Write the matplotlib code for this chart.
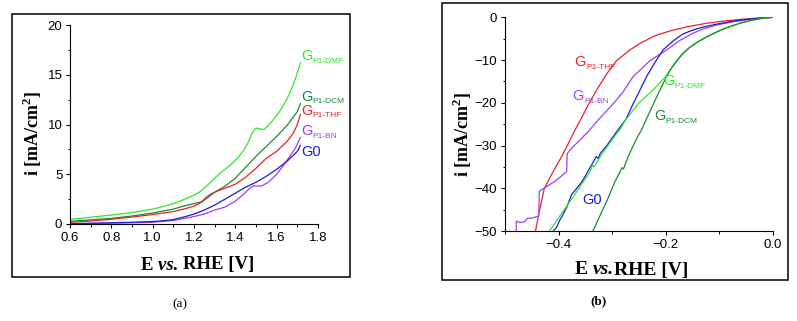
import matplotlib
matplotlib.use("Agg")
import matplotlib.pyplot as plt
from matplotlib.patches import Rectangle

plt.rcParams["font.family"] = ["Liberation Sans", "DejaVu Sans"]
plt.rcParams["mathtext.fontset"] = "custom"
plt.rcParams["mathtext.rm"] = "Liberation Serif:bold"
plt.rcParams["mathtext.bf"] = "Liberation Serif:bold"
plt.rcParams["axes.unicode_minus"] = True

# ---- panel (a): anodic sweep (OER) ----
dmf_a_x = [0.6, 0.7, 0.8, 0.9, 1.0, 1.05, 1.1, 1.15, 1.2, 1.23, 1.26, 1.29, 1.32, 1.35, 1.38,
           1.41, 1.44, 1.46, 1.48, 1.5, 1.52, 1.54, 1.56, 1.58, 1.6, 1.62, 1.64, 1.66, 1.68, 1.7, 1.715]
dmf_a_y = [0.47, 0.68, 0.9, 1.15, 1.5, 1.75, 2.05, 2.45, 2.9, 3.25, 3.8, 4.4, 5.0, 5.5, 6.0,
           6.6, 7.4, 8.1, 9.1, 9.65, 9.55, 9.5, 9.9, 10.4, 10.9, 11.5, 12.2, 13.0, 14.0, 15.2, 16.2]

dcm_a_x = [0.6, 0.7, 0.8, 0.9, 1.0, 1.1, 1.15, 1.2, 1.24, 1.27, 1.3, 1.35, 1.4, 1.45, 1.5,
           1.55, 1.6, 1.65, 1.7, 1.715]
dcm_a_y = [0.27, 0.42, 0.57, 0.8, 1.1, 1.5, 1.8, 2.05, 2.25, 2.7, 3.2, 3.8, 4.6, 5.7, 6.8,
           7.8, 8.8, 9.9, 11.3, 12.1]

thf_a_x = [0.6, 0.7, 0.8, 0.9, 1.0, 1.1, 1.15, 1.2, 1.23, 1.26, 1.28, 1.3, 1.35, 1.4, 1.45,
           1.5, 1.55, 1.6, 1.65, 1.68, 1.7, 1.715]
thf_a_y = [0.17, 0.3, 0.47, 0.7, 0.95, 1.25, 1.5, 1.8, 2.1, 2.7, 3.0, 3.2, 3.6, 4.0, 4.7,
           5.6, 6.6, 7.3, 8.3, 9.1, 10.0, 11.0]

bn_a_x = [0.6, 0.7, 0.8, 0.9, 1.0, 1.1, 1.15, 1.2, 1.25, 1.3, 1.35, 1.4, 1.44, 1.47, 1.49,
          1.51, 1.53, 1.56, 1.6, 1.63, 1.66, 1.69, 1.715]
bn_a_y = [0.02, 0.05, 0.08, 0.12, 0.17, 0.35, 0.55, 0.75, 1.0, 1.4, 1.7, 2.3, 3.0, 3.6, 3.85,
          3.8, 3.85, 4.2, 5.0, 5.8, 6.7, 7.6, 8.7]

g0_a_x = [0.6, 0.7, 0.8, 0.9, 1.0, 1.05, 1.1, 1.15, 1.2, 1.25, 1.3, 1.35, 1.4, 1.45, 1.5,
          1.55, 1.6, 1.65, 1.7, 1.715]
g0_a_y = [0.03, 0.08, 0.12, 0.18, 0.25, 0.32, 0.45, 0.7, 1.0, 1.4, 1.9, 2.5, 3.1, 3.7, 4.2,
          4.8, 5.5, 6.3, 7.3, 7.9]

# ---- panel (b): cathodic sweep (HER) ----
thf_b_x = [-0.443, -0.437, -0.427, -0.412, -0.397, -0.383, -0.369, -0.36, -0.345, -0.33, -0.31,
           -0.292, -0.27, -0.248, -0.22, -0.187, -0.155, -0.124, -0.09, -0.062, -0.03, 0.0]
thf_b_y = [-50, -46, -40.2, -36.5, -33.2, -29.8, -26.3, -24.2, -20.6, -17.2, -13.2,
           -10.2, -7.9, -6.1, -4.3, -3.0, -2.1, -1.4, -0.85, -0.5, -0.2, 0.0]

bn_b_x = [-0.479, -0.479, -0.472, -0.463, -0.458, -0.45, -0.44, -0.437, -0.436, -0.43, -0.422,
          -0.404, -0.385, -0.384, -0.375, -0.36, -0.343, -0.326, -0.3, -0.28, -0.261, -0.23,
          -0.198, -0.175, -0.149, -0.13, -0.105, -0.075, -0.049, -0.025, 0.0]
bn_b_y = [-50, -47.7, -48.0, -47.8, -47.0, -47.0, -46.6, -46.5, -40.7, -40.2, -39.6,
          -38.1, -36.1, -31.9, -30.5, -28.7, -26.5, -24, -20.5, -17.5, -13.9, -10.2,
          -7.6, -5.5, -3.7, -2.7, -1.8, -1.05, -0.6, -0.25, 0.0]

g0_b_x = [-0.41, -0.404, -0.398, -0.392, -0.385, -0.376, -0.366, -0.355, -0.345, -0.336, -0.33,
          -0.326, -0.322, -0.31, -0.3, -0.289, -0.274, -0.262, -0.25, -0.236, -0.22, -0.205,
          -0.185, -0.168, -0.15, -0.131, -0.105, -0.075, -0.05, -0.025, 0.0]
g0_b_y = [-50, -49.2, -47.5, -46.2, -44.5, -41.5, -40, -38.2, -36, -34, -32.6,
          -33.0, -31.8, -30.0, -28.2, -26.3, -23.8, -20.5, -17.5, -13.9, -10.5, -7.6,
          -5.4, -3.9, -3.0, -2.3, -1.6, -0.9, -0.5, -0.2, 0.0]

dmf_b_x = [-0.417, -0.395, -0.37, -0.35, -0.34, -0.337, -0.334, -0.32, -0.3, -0.285, -0.276,
           -0.25, -0.222, -0.2, -0.182, -0.17, -0.155, -0.14, -0.12, -0.1, -0.08, -0.06,
           -0.04, -0.02, 0.0]
dmf_b_y = [-50, -46, -41.5, -37.8, -35.8, -34.6, -35.0, -32.2, -28.6, -26.2, -24.2,
           -20.0, -16.8, -13.8, -10.5, -8.6, -7.0, -5.7, -4.3, -3.1, -2.1, -1.3,
           -0.7, -0.25, 0.0]

dcm_b_x = [-0.336, -0.325, -0.31, -0.295, -0.285, -0.282, -0.279, -0.27, -0.255, -0.245,
           -0.237, -0.225, -0.214, -0.2, -0.19, -0.178, -0.168, -0.155, -0.14, -0.12, -0.1,
           -0.08, -0.06, -0.04, -0.02, 0.0]
dcm_b_y = [-50, -47, -43, -38.5, -36, -35.2, -35.5, -32.5, -28.5, -26.3,
           -24.0, -20.8, -17.8, -14.2, -12.0, -10.0, -8.5, -7.0, -5.75, -4.35, -3.15,
           -2.15, -1.35, -0.7, -0.25, 0.0]

c_dmf = "#2ee62e"
c_dcm = "#1b8a33"
c_thf = "#ea2228"
c_bn = "#a040ee"
c_g0 = "#1c1cd8"

series_a = [(dmf_a_x, dmf_a_y, c_dmf), (dcm_a_x, dcm_a_y, c_dcm), (thf_a_x, thf_a_y, c_thf),
            (bn_a_x, bn_a_y, c_bn), (g0_a_x, g0_a_y, c_g0)]
series_b = [(thf_b_x, thf_b_y, c_thf), (bn_b_x, bn_b_y, c_bn), (g0_b_x, g0_b_y, c_g0),
            (dmf_b_x, dmf_b_y, c_dmf), (dcm_b_x, dcm_b_y, c_dcm)]

W, H = 797, 321
fig = plt.figure(figsize=(W / 100, H / 100), dpi=100)


def px_axes(l, t, r, b):
    return fig.add_axes([l / W, (H - b) / H, (r - l) / W, (b - t) / H])


def style(ax):
    for s in ["top", "right"]:
        ax.spines[s].set_visible(False)
    for s in ["left", "bottom"]:
        ax.spines[s].set_linewidth(0.8)
    ax.tick_params(which="major", direction="out", length=3, width=0.8, pad=2.5,
                   labelsize=9.5, colors="black")
    ax.tick_params(which="minor", direction="out", length=1.8, width=0.7)


def glabel(ax, x, y, main, sub, color):
    t = ax.text(x, y, main, color=color, fontsize=10.5, ha="left", va="center")
    if sub:
        ax.annotate(sub, xy=(1.0, 0.12), xycoords=t, color=color, fontsize=6,
                    ha="left", va="center")


# overlay axes in pixel units for the figure-level texts and frames
ov = fig.add_axes([0, 0, 1, 1])
ov.set_xlim(0, W)
ov.set_ylim(H, 0)
ov.axis("off")


def serif_label(x, y, size, text_vs):
    kw = dict(fontsize=size, family="Liberation Serif", fontweight="bold")
    t1 = ov.text(x, y, "E ", ha="left", va="center", **kw)
    t2 = ov.annotate(text_vs, xy=(1, 0), xycoords=t1, style="italic",
                     ha="left", va="bottom", **kw)
    ov.annotate("RHE [V]", xy=(1, 0), xycoords=t2, ha="left", va="bottom", **kw)


# panel (a)
ax_a = px_axes(70, 25, 318, 224)
for xs, ys, c in series_a:
    ax_a.plot(xs, ys, color=c, lw=0.9)
ax_a.set_xlim(0.6, 1.8)
ax_a.set_ylim(0, 20)
ax_a.set_xticks([0.6, 0.8, 1.0, 1.2, 1.4, 1.6, 1.8])
ax_a.set_xticklabels(["0.6", "0.8", "1.0", "1.2", "1.4", "1.6", "1.8"])
ax_a.set_xticks([0.7, 0.9, 1.1, 1.3, 1.5, 1.7], minor=True)
ax_a.set_yticks([0, 5, 10, 15, 20])
ax_a.set_yticks([2.5, 7.5, 12.5, 17.5], minor=True)
style(ax_a)
glabel(ax_a, 1.72, 16.9, "G", "P1-DMF", c_dmf)
glabel(ax_a, 1.72, 12.8, "G", "P1-DCM", c_dcm)
glabel(ax_a, 1.72, 11.4, "G", "P1-THF", c_thf)
glabel(ax_a, 1.72, 9.3, "G", "P1-BN", c_bn)
glabel(ax_a, 1.72, 7.2, "G0", "", c_g0)

# panel (b)
ax_b = px_axes(505, 17.3, 773, 231)
for xs, ys, c in series_b:
    ax_b.plot(xs, ys, color=c, lw=0.9)
ax_b.set_xlim(-0.5, 0.0)
ax_b.set_ylim(-50, 0)
ax_b.set_xticks([-0.4, -0.2, 0.0])
ax_b.set_xticklabels(["\u22120.4", "\u22120.2", "0.0"])
ax_b.set_xticks([-0.5, -0.3, -0.1], minor=True)
ax_b.set_yticks([0, -10, -20, -30, -40, -50])
ax_b.set_yticks([-5, -15, -25, -35, -45], minor=True)
style(ax_b)
glabel(ax_b, -0.37, -10.4, "G", "P1-THF", c_thf)
glabel(ax_b, -0.374, -18.4, "G", "P1-BN", c_bn)
glabel(ax_b, -0.205, -15.0, "G", "P1-DMF", c_dmf)
glabel(ax_b, -0.222, -23.1, "G", "P1-DCM", c_dcm)
glabel(ax_b, -0.355, -42.7, "G0", "", c_g0)

# axis titles
for xc, yc in [(32, 133), (462, 134)]:
    ov.text(xc, yc, r"i [mA/cm$^\mathbf{2}$]", rotation=90, fontsize=13,
            family="Liberation Serif", fontweight="bold", ha="center", va="center")
serif_label(141, 265, 13.5, "vs. ")
serif_label(575, 270, 14, "vs.")

# panel frames and captions
ov.add_patch(Rectangle((12, 14), 338, 263, fill=False, lw=1.1, ec="black"))
ov.add_patch(Rectangle((442, 3), 346, 277, fill=False, lw=1.1, ec="black"))
ov.text(180, 304, "(a)", fontsize=9.5, family="Liberation Serif", ha="center", va="center")
ov.text(599, 301, "(b)", fontsize=9.5, family="Liberation Serif", fontweight="bold",
        ha="center", va="center")

fig.savefig("out.png", dpi=100)
